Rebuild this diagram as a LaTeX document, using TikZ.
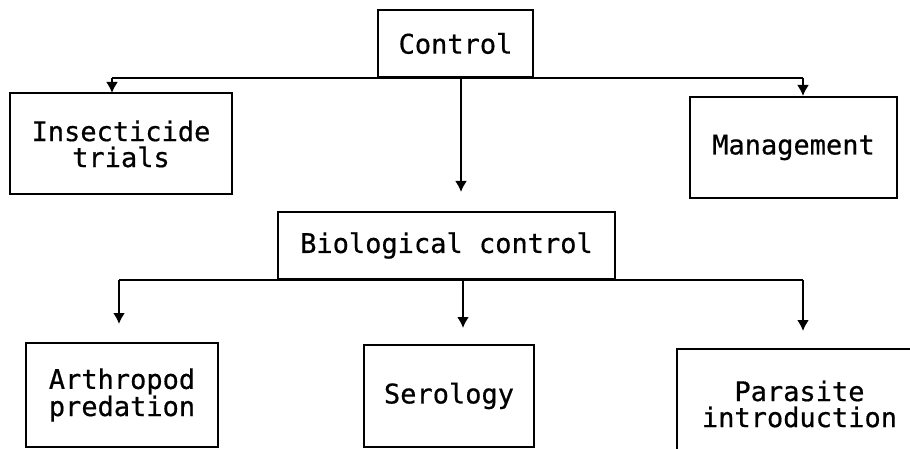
\documentclass[tikz,border=0pt]{standalone}
\usepackage{fontspec}
\newfontfamily\boxfamily[FakeBold=0.6]{DejaVu Sans Mono}
\usetikzlibrary{arrows.meta}

\begin{document}
\begin{tikzpicture}[x=1pt,y=-1pt,line width=2pt,every node/.style={draw,align=center,inner sep=0pt,font=\boxfamily\fontsize{27}{26}\selectfont},arr/.style={-{Latex[length=11pt,width=12pt]}}]
\useasboundingbox (0,0) rectangle (910,449);
\node[minimum width=155pt,minimum height=67pt] (ctrl) at (455.5,43.5) {Control};
\node[minimum width=222pt,minimum height=101pt] (ins) at (121,144) {Insecticide\\trials};
\node[minimum width=207pt,minimum height=101pt] (mgmt) at (793.5,147.5) {Management};
\node[minimum width=337pt,minimum height=67pt] (bio) at (446.5,245.5) {Biological control};
\node[minimum width=192pt,minimum height=104pt] (arth) at (122,395) {Arthropod\\predation};
\node[minimum width=170pt,minimum height=102pt] (sero) at (449,396) {Serology};
\node[minimum width=245pt,minimum height=110pt] (para) at (799.5,404) {Parasite\\introduction};
% arrow ends
\coordinate (t1) at (112,93);
\coordinate (t2) at (461,192);
\coordinate (t3) at (803,96);
\coordinate (u1) at (119,324);
\coordinate (u2) at (463,328);
\coordinate (u3) at (803,331);
\draw (t1 |- ctrl.south) -- (t3 |- ctrl.south);
\draw[arr] (t1 |- ctrl.south) -- (t1);
\draw[arr] (t2 |- ctrl.south) -- (t2);
\draw[arr] (t3 |- ctrl.south) -- (t3);
\draw (u1 |- bio.south) -- (u3 |- bio.south);
\draw[arr] (u1 |- bio.south) -- (u1);
\draw[arr] (u2 |- bio.south) -- (u2);
\draw[arr] (u3 |- bio.south) -- (u3);
\end{tikzpicture}
\end{document}
